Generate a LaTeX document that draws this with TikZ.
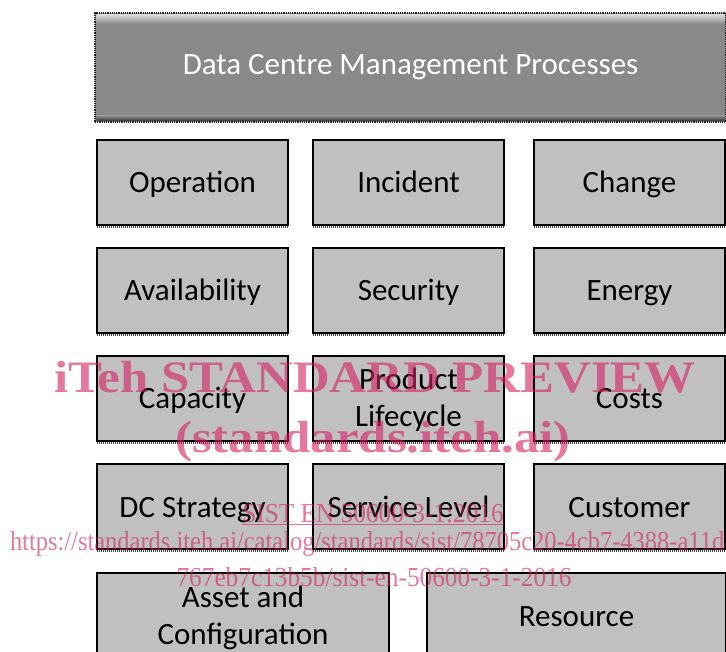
\documentclass[tikz,border=0pt]{standalone}
\usepackage{fontspec}
\setmainfont{Carlito}
\newfontfamily\wmfont{Liberation Serif}
\usetikzlibrary{positioning}
\definecolor{boxgray}{RGB}{192,192,192}
\definecolor{headgray}{RGB}{137,137,137}
\definecolor{wmpink}{RGB}{213,30,97}

\begin{document}
\begin{tikzpicture}[x=1pt, y=-1pt]
        \tikzstyle{every node} = [align=center, inner sep=0pt, outer sep=0pt, font=\fontsize{31}{37}\selectfont]
        \tikzstyle{proc} = [draw, line width=1.5pt, fill=boxgray, minimum width=191pt, minimum height=85pt, text height=21pt, text depth=0pt, node distance=23pt]
        \tikzstyle{twoline} = [text height=57pt, text depth=0pt]
        \tikzstyle{head} = [draw=black!85, densely dotted, line width=1.2pt, fill=headgray, text=white, minimum width=631pt, minimum height=109pt, text height=20pt, text depth=5pt]
        \tikzstyle{wm} = [text=wmpink, opacity=.6]
        \useasboundingbox (0,0) rectangle (726,652);
        \clip (0,0) rectangle (726,652);

        \node[head, anchor=north west](dc) at (95,13){Data Centre Management Processes};
        \shade[top color=white!70!headgray, bottom color=headgray] ([xshift=1.5pt, yshift=-1.5pt]dc.north west) rectangle ([xshift=-1.5pt, yshift=-11pt]dc.north east);
        \shade[top color=headgray, bottom color=black!55!headgray] ([xshift=1.5pt, yshift=6pt]dc.south west) rectangle ([xshift=-1.5pt, yshift=1.5pt]dc.south east);

        \node[proc, below right=18pt and 2pt of dc.south west](op){Operation};
        \node[proc, right=25pt of op](inc){Incident};
        \node[proc, right=30pt of inc](chg){Change};
        \node[proc, below=of op](av){Availability};
        \node[proc, below=of inc](sec){Security};
        \node[proc, below=of chg](en){Energy};
        \node[proc, below=of av](cap){Capacity};
        \node[proc, twoline, below=of sec](prod){Product\\Lifecycle};
        \node[proc, below=of en](cost){Costs};
        \node[proc, below=of cap](dcs){DC Strategy};
        \node[proc, below=of prod](sl){Service Level};
        \node[proc, below=of cost](cus){Customer};
        \node[proc, twoline, minimum width=292pt, below right=24pt and 0pt of dcs.south west](asset){Asset and\\Configuration};
        \node[proc, minimum width=299pt, right=38pt of asset](res){Resource};

        \foreach \n in {op, inc, chg, av, sec, en, cap, prod, cost, dcs, sl, cus}
            \draw[black!75, line width=1.3pt, dash pattern=on 1pt off 1pt] ([yshift=-2pt]\n.south west) -- ([yshift=-2pt]\n.south east);

        \node[wm, font=\wmfont\bfseries\fontsize{45}{50}\selectfont, xscale=1.13, anchor=base](wmtitle) at (375,393){iTeh STANDARD PREVIEW};
        \node[wm, font=\wmfont\bfseries\fontsize{45}{50}\selectfont, xscale=1.13, anchor=base](wmsite) at (373,452){(standards.iteh.ai)};
        \node[wm, font=\wmfont\fontsize{27.5}{30}\selectfont, xscale=.92, anchor=base](wmcode) at (373,522){\underline{SIST EN 50600-3-1:2016}};
        \node[wm, font=\wmfont\fontsize{27.5}{30}\selectfont, xscale=.89, anchor=base west](wmurl) at (10,550){https://standards.iteh.ai/catalog/standards/sist/78705c20-4cb7-4388-a11d-};
        \node[wm, font=\wmfont\fontsize{27.5}{30}\selectfont, xscale=.92, anchor=base](wmpath) at (374,586){767eb7c13b5b/sist-en-50600-3-1-2016};
    \end{tikzpicture}
\end{document}
